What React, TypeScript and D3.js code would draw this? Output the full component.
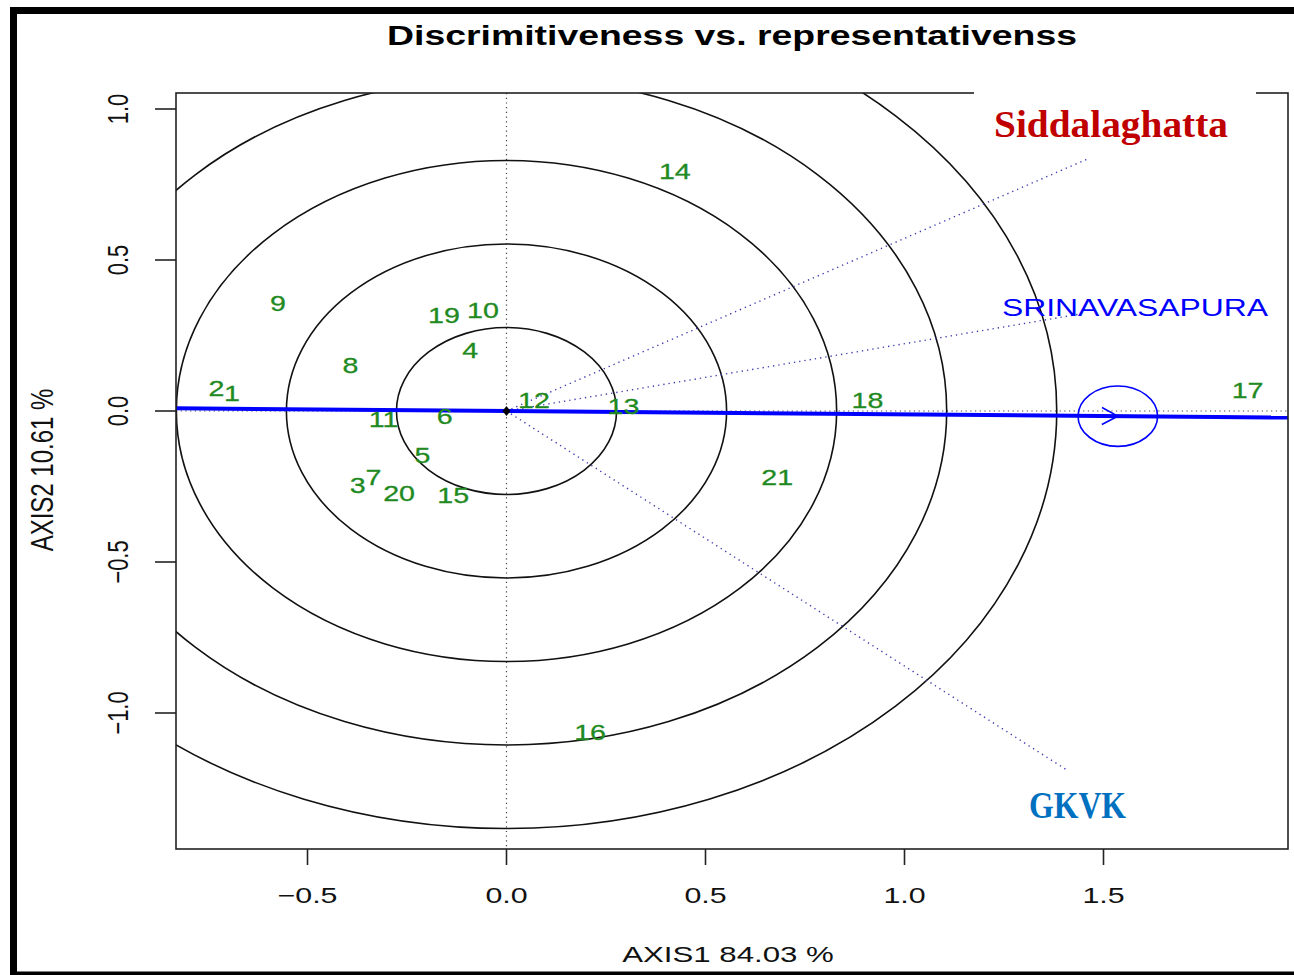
import React from "react";
import * as d3 from "d3";

// ---------- data ----------
const genotypes = ["1","2","3","4","5","6","7","8","9","10","11","12","13","14","15","16","17","18","19","20","21"];
const genoPC1 = [-0.690,-0.729,-0.374,-0.091,-0.211,-0.155,-0.334,-0.392,-0.574,-0.059,-0.309,0.069,0.294,0.423,-0.134,0.210,1.862,0.907,-0.157,-0.270,0.680];
const genoPC2 = [0.058,0.076,-0.245,0.202,-0.146,-0.018,-0.220,0.152,0.356,0.334,-0.028,0.035,0.015,0.796,-0.277,-1.063,0.070,0.036,0.318,-0.270,-0.220];

const environments = ["Siddalaghatta","SRINAVASAPURA","GKVK"];
const envPC1 = [1.466,1.441,1.408];
const envPC2 = [0.838,0.321,-1.189];

const aecPoint = [1.536,-0.017];
const aecRadius = 0.1;
const ringStep = 0.2765;
const ringCount = 5;

const xTicks = [-0.5,0,0.5,1,1.5];
const yTicks = [-1,-0.5,0,0.5,1];

const title = "Discrimitiveness vs. representativenss";
const xLabel = "AXIS1 84.03 %";
const yLabel = "AXIS2 10.61 %";

// ---------- layout ----------
const W = 1294, H = 975;
const L = 176, R = 1288, T = 93, B = 849;
const X0 = 506.5, KX = 398, Y0 = 411, KY = 302;

export default function App() {
  const x = d3.scaleLinear().domain([(L - X0) / KX, (R - X0) / KX]).range([L, R]);
  const y = d3.scaleLinear().domain([(Y0 - T) / KY, (Y0 - B) / KY]).range([T, B]);
  const fmt = d3.format(".1f");
  const ox = x(0), oy = y(0);

  const rings = d3.range(1, ringCount + 1).map((k) => k * ringStep);
  const slope = aecPoint[1] / aecPoint[0];
  const [dx0, dx1] = x.domain();
  const tipX = x(aecPoint[0]), tipY = y(aecPoint[1]);
  const ang = Math.atan2(tipY - oy, tipX - ox);
  const armLen = 18, armAng = (28 * Math.PI) / 180;
  const arrowPath = d3.path();
  arrowPath.moveTo(tipX - armLen * Math.cos(ang - armAng), tipY - armLen * Math.sin(ang - armAng));
  arrowPath.lineTo(tipX, tipY);
  arrowPath.lineTo(tipX - armLen * Math.cos(ang + armAng), tipY - armLen * Math.sin(ang + armAng));

  const sans = "'Liberation Sans', Arial, Helvetica, sans-serif";
  const serif = "'Liberation Serif', 'Times New Roman', serif";
  const green = "#1f8a1f";

  return (
    <svg width={W} height={H} style={{ position: "absolute", left: 0, top: 0, background: "#fff" }} fontFamily={sans}>
      <defs>
        <clipPath id="plotClip">
          <rect x={L} y={T} width={R - L} height={B - T} />
        </clipPath>
      </defs>
      <rect x={0} y={0} width={W} height={H} fill="#fff" />

      {/* title */}
      <text x={732} y={45} textAnchor="middle" fontSize={28} fontWeight="bold" textLength={690} lengthAdjust="spacingAndGlyphs" fill="#000">{title}</text>

      <g clipPath="url(#plotClip)">
        {/* reference dotted axes */}
        <line x1={L} x2={R} y1={oy} y2={oy} stroke="#444" strokeWidth={1.2} strokeDasharray="1.2 3.5" />
        <line x1={ox} x2={ox} y1={T} y2={B} stroke="#444" strokeWidth={1.2} strokeDasharray="1.2 3.5" />
        {/* concentric circles */}
        {rings.map((r, i) => (
          <ellipse key={i} cx={ox} cy={oy} rx={x(r) - ox} ry={oy - y(r)} fill="none" stroke="#111" strokeWidth={1.6} />
        ))}
        {/* environment vectors */}
        {environments.map((e, i) => (
          <line key={e} x1={ox} y1={oy} x2={x(envPC1[i])} y2={y(envPC2[i])} stroke="#3b3bb0" strokeWidth={1.4} strokeDasharray="1.3 4" />
        ))}
        {/* average environment axis */}
        <line x1={x(dx0)} y1={y(dx0 * slope)} x2={x(dx1)} y2={y(dx1 * slope)} stroke="#0000ff" strokeWidth={4} />
        <ellipse cx={tipX} cy={tipY} rx={x(aecRadius) - ox} ry={oy - y(aecRadius)} fill="none" stroke="#0000ff" strokeWidth={1.6} />
        <path d={arrowPath.toString()} fill="none" stroke="#0000ff" strokeWidth={1.6} />
        {/* origin marker */}
        <path d={`M${ox},${oy - 5}L${ox + 4},${oy}L${ox},${oy + 5}L${ox - 4},${oy}Z`} fill="#000" />
        {/* genotype labels */}
        {genotypes.map((g, i) => (
          <text key={g} transform={`translate(${x(genoPC1[i])},${y(genoPC2[i]) + 8}) scale(1.3,1)`} textAnchor="middle" fontSize={22} fill={green} stroke={green} strokeWidth={0.3}>{g}</text>
        ))}
        {/* environment label */}
        <text x={1135} y={316} textAnchor="middle" fontSize={24} fill="#0000ff" textLength={266} lengthAdjust="spacingAndGlyphs">{environments[1]}</text>
      </g>

      {/* plot box */}
      <rect x={L} y={T} width={R - L} height={B - T} fill="none" stroke="#222" strokeWidth={1.6} />

      {/* x axis ticks */}
      {xTicks.map((t) => (
        <g key={"x" + t}>
          <line x1={x(t)} x2={x(t)} y1={B} y2={B + 16} stroke="#222" strokeWidth={1.6} />
          <text transform={`translate(${x(t)},903) scale(1.38,1)`} textAnchor="middle" fontSize={22} fill="#111">{fmt(t)}</text>
        </g>
      ))}
      {/* y axis ticks */}
      {yTicks.map((t) => (
        <g key={"y" + t}>
          <line x1={L - 21} x2={L} y1={y(t)} y2={y(t)} stroke="#222" strokeWidth={1.6} />
          <text transform={`translate(128,${y(t)}) scale(1.33,1) rotate(-90)`} textAnchor="middle" fontSize={22} fill="#111">{fmt(t)}</text>
        </g>
      ))}

      {/* axis titles */}
      <text transform="translate(728,962) scale(1.42,1)" textAnchor="middle" fontSize={22} fill="#111">{xLabel}</text>
      <text transform={`translate(53,470) scale(1.33,1) rotate(-90)`} textAnchor="middle" fontSize={24} fill="#111">{yLabel}</text>

      {/* pasted annotation labels */}
      <rect x={974} y={86} width={282} height={12} fill="#fff" />
      <text x={994} y={137} fontFamily={serif} fontWeight="bold" fontSize={37} fill="#c00000" textLength={234} lengthAdjust="spacingAndGlyphs">{environments[0]}</text>
      <text x={1029} y={818} fontFamily={serif} fontWeight="bold" fontSize={37} fill="#0070c0" textLength={97} lengthAdjust="spacingAndGlyphs">{environments[2]}</text>

      {/* outer frame */}
      <line x1={10} x2={W} y1={10.5} y2={10.5} stroke="#000" strokeWidth={7} />
      <line x1={13.5} x2={13.5} y1={7} y2={H} stroke="#000" strokeWidth={7} />
      <line x1={10} x2={W} y1={974} y2={974} stroke="#000" strokeWidth={5} />
    </svg>
  );
}
